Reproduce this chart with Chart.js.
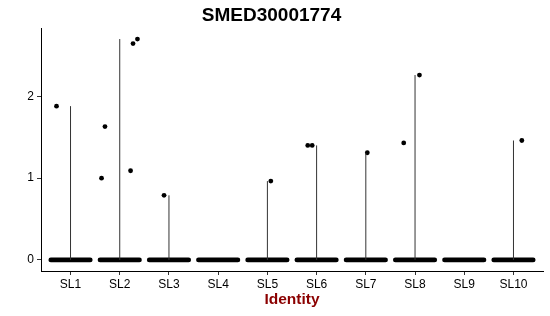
<!DOCTYPE html>
<html>
<head>
<meta charset="utf-8">
<script src="https://cdn.jsdelivr.net/npm/chart.js@4"></script>
<style>
  html, body { margin: 0; padding: 0; background: #fff; }
  #wrap { width: 550px; height: 316px; }
</style>
</head>
<body>
<div id="wrap"><canvas id="chart" width="550" height="316"></canvas></div>
<script>
// Violin plot data (most cells sit at 0)
const categories = ['SL1', 'SL2', 'SL3', 'SL4', 'SL5', 'SL6', 'SL7', 'SL8', 'SL9', 'SL10'];
const maxValues = [1.88, 2.70, 0.79, 0, 0.964, 1.40, 1.31, 2.26, 0, 1.46];
// non-zero cells: category index, jitter offset, value
const pointCategory = [0, 1, 1, 1, 1, 1, 2, 4, 5, 5, 6, 7, 7, 9];
const pointJitter = [-0.285, -0.30, -0.37, 0.22, 0.27, 0.36, -0.10, 0.07, -0.18, -0.09, 0.03, -0.23, 0.09, 0.17];
const pointValues = [1.88, 1.63, 1.00, 1.09, 2.645, 2.70, 0.79, 0.964, 1.40, 1.40, 1.31, 1.43, 2.26, 1.46];
const yTicks = [0, 1, 2];

const ink = '#000';
const fontFamily = '"Liberation Sans", Arial, Helvetica, sans-serif';

// zero cells drawn as a dense band, one per category
const zeroBands = categories.map((c, i) => ({
  type: 'line',
  data: [{ x: i + 1 - 0.4, y: 0 }, { x: i + 1 + 0.4, y: 0 }],
  borderColor: ink,
  borderWidth: 4.8,
  borderCapStyle: 'round',
  pointRadius: 0
}));

// violins collapse to a thin line from 0 to the max
const violins = categories.map((c, i) => ({
  type: 'line',
  data: [{ x: i + 1, y: 0 }, { x: i + 1, y: maxValues[i] }],
  borderColor: '#333',
  borderWidth: 1,
  pointRadius: 0
}));

const points = {
  type: 'scatter',
  data: pointValues.map((v, k) => ({ x: pointCategory[k] + 1 + pointJitter[k], y: v })),
  backgroundColor: ink,
  borderColor: ink,
  pointRadius: 2.4,
  borderWidth: 0
};

new Chart(document.getElementById('chart').getContext('2d'), {
  type: 'scatter',
  data: { datasets: [...violins, ...zeroBands, points] },
  options: {
    responsive: false,
    animation: false,
    layout: { padding: { left: 0, right: 7, top: 0, bottom: 0 } },
    plugins: {
      legend: { display: false },
      tooltip: { enabled: false },
      title: {
        display: true,
        text: 'SMED30001774',
        color: ink,
        font: { family: fontFamily, size: 19, weight: 'bold' },
        padding: { top: 4, bottom: 1.2 }
      }
    },
    scales: {
      x: {
        type: 'linear',
        min: 0.4,
        max: 10.6,
        afterBuildTicks: s => { s.ticks = categories.map((c, i) => ({ value: i + 1 })); },
        afterFit: s => { s.height = 45; },
        ticks: {
          callback: v => categories[v - 1],
          color: ink,
          padding: 2,
          maxRotation: 0,
          autoSkip: false,
          font: { family: fontFamily, size: 12 }
        },
        grid: { drawOnChartArea: false, tickLength: 4, color: '#333' },
        border: { display: true, color: '#000', width: 1 },
        title: {
          display: true,
          text: 'Identity',
          color: '#8b0000',
          font: { family: fontFamily, size: 15.5, weight: 'bold' },
          padding: { top: 0, bottom: 7 }
        }
      },
      y: {
        min: -0.135,
        max: 2.835,
        afterBuildTicks: s => { s.ticks = yTicks.map(v => ({ value: v })); },
        afterFit: s => { s.width = 41; },
        ticks: {
          color: ink,
          padding: 3,
          font: { family: fontFamily, size: 12 }
        },
        grid: { drawOnChartArea: false, tickLength: 4, color: '#333' },
        border: { display: true, color: '#000', width: 1 }
      }
    }
  }
});
</script>
</body>
</html>
